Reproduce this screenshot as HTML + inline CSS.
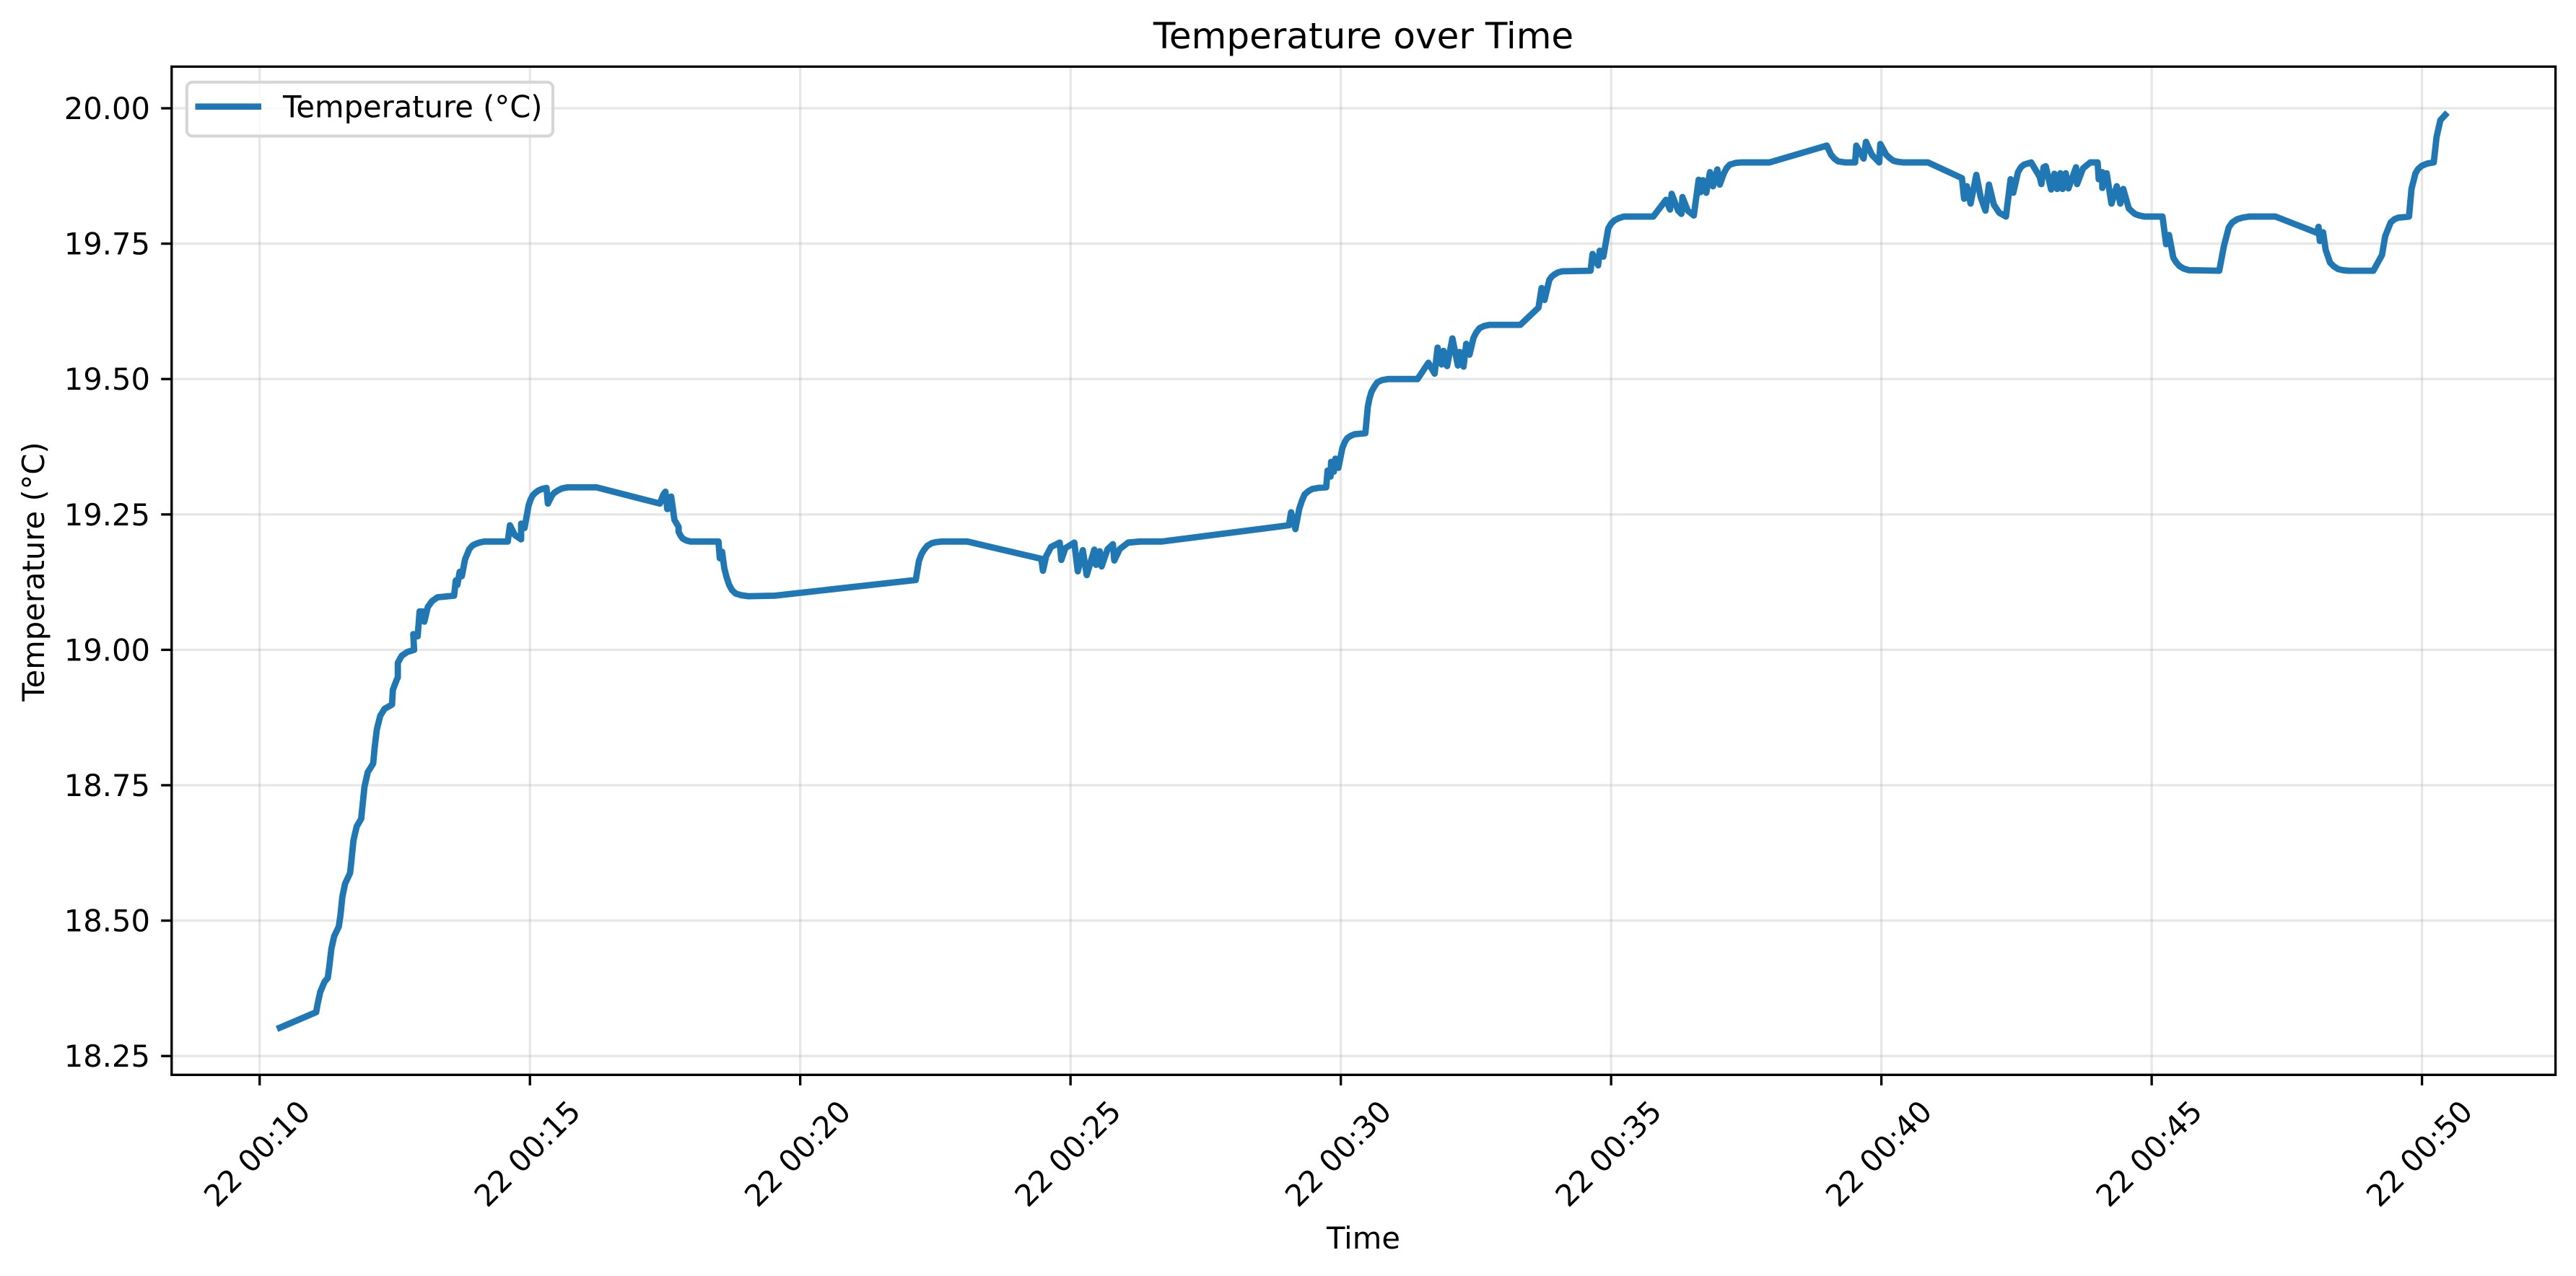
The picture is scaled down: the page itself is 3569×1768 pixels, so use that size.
<!DOCTYPE html>
<html lang="en">
<head>
<meta charset="utf-8">
<title>Temperature over Time</title>
<style>
html,body{margin:0;padding:0;background:#fff;width:3569px;height:1768px;overflow:hidden}
svg{display:block}
text{font-family:"DejaVu Sans","Liberation Sans",sans-serif;fill:#000}
</style>
</head>
<body>
<svg id="chart" xmlns="http://www.w3.org/2000/svg" width="3569" height="1768" viewBox="0 0 3569 1768">
  <rect x="0" y="0" width="3569" height="1768" fill="#fff"/>
  <g id="grid"></g>
  <g id="series"></g>
  <rect x="237.8" y="92.3" width="3302.8" height="1397" fill="none" stroke="#000" stroke-width="3.33"/>
  <g id="ticks"></g>
  <text x="1889" y="67" font-size="50" text-anchor="middle">Temperature over Time</text>
  <text x="1889" y="1730" font-size="41.67" text-anchor="middle">Time</text>
  <text x="0" y="0" font-size="41.67" text-anchor="middle" transform="translate(61 792) rotate(-90)">Temperature (°C)</text>
  <g>
    <rect x="258.8" y="113.8" width="507.2" height="74.8" rx="8" ry="8" fill="#fff" fill-opacity="0.8" stroke="#d6d6d6" stroke-width="4.17"/>
    <line x1="270.5" y1="147.7" x2="362" y2="147.7" stroke="#1f77b4" stroke-width="8.6"/>
    <text x="392" y="162.7" font-size="41.67">Temperature (°C)</text>
  </g>
</svg>
<script>
// Time stamps in minutes after 00:00 on day 22
const times = [
10.32,11.046,11.07,11.12,11.2,11.26,11.286,11.327,11.378,11.464,11.495,11.53,11.58,11.673,11.70,11.735,11.796,11.878,11.903,11.939,12.0,12.10,12.128,12.168,12.23,12.31,12.449,12.464,12.536,12.556,12.556,12.628,12.73,12.857,12.842,12.923,12.959,13.02,13.046,13.11,13.19,13.29,13.597,13.628,13.658,13.70,13.74,13.80,13.878,
13.93,13.98,14.06,14.158,14.59,14.63,14.72,14.837,14.837,14.9,14.974,15.01,15.05,15.1,15.153,15.22,15.306,15.332,15.408,15.45,15.51,15.59,15.69,
16.232,17.405,17.464,17.506,17.54,17.57,17.613,17.673,17.75,17.75,17.78,17.82,17.89,17.97,18.488,18.512,18.554,18.595,18.635,18.685,18.74,18.804,18.9,19.04,19.53,
22.137,22.196,22.24,22.286,22.35,22.435,22.52,22.613,23.09,
24.46,24.49,24.55,24.64,24.80,24.83,24.906,25.07,25.134,25.227,25.30,25.44,25.47,25.54,25.575,25.686,25.784,25.81,25.91,26.065,26.29,26.69,
29.04,29.08,29.16,29.23,29.28,29.33,29.4,29.47,29.58,29.73,29.755,29.81,29.82,29.87,29.9,29.955,30.03,30.075,30.12,30.18,30.25,30.454,30.5,30.53,30.565,30.62,30.676,30.76,30.876,31.42,
31.62,31.735,31.79,31.864,31.9,31.966,32.064,32.166,32.2,32.27,32.32,32.38,32.455,32.505,32.567,32.65,32.745,33.32,33.657,33.714,33.768,33.857,33.9,33.95,34.02,34.1,34.62,
34.657,34.76,34.79,34.857,34.947,35.0,35.06,35.14,35.236,35.78,
36.016,36.09,36.12,36.24,36.3,36.32,36.417,36.53,36.62,36.653,36.7,36.76,36.83,36.885,36.965,37.01,37.086,37.14,37.197,37.3,37.42,37.93,38.99,39.07,39.13,39.2,39.33,39.514,
39.536,39.67,39.715,39.825,39.96,39.98,40.09,40.155,40.225,40.31,40.4,40.86,
41.49,41.53,41.58,41.65,41.756,41.836,41.925,41.99,42.08,42.18,42.304,42.39,42.44,42.527,42.58,42.64,42.77,
42.93,42.96,43.0,43.04,43.14,43.2,43.25,43.31,43.35,43.41,43.46,43.6,43.62,43.73,43.864,44.0,44.02,44.086,44.086,44.167,44.256,44.354,44.42,44.474,44.577,44.63,44.69,44.77,44.866,45.2,45.267,45.32,45.4,45.45,45.51,45.59,45.69,46.25,46.337,46.426,46.49,46.58,46.68,46.805,47.29,
48.06,48.086,48.11,48.17,48.22,48.3,48.37,48.45,48.54,48.64,49.1,49.26,49.32,49.42,49.49,49.56,49.76,49.806,49.88,49.93,50.0,50.1,50.218,50.27,50.34,50.47
];
// Temperature readings in °C, one per time stamp
const temps = [
18.30,18.331,18.345,18.368,18.387,18.394,18.413,18.448,18.471,18.489,18.51,18.544,18.568,18.588,18.613,18.648,18.674,18.688,18.712,18.747,18.774,18.79,18.82,18.853,18.878,18.891,18.899,18.926,18.945,18.949,18.976,18.989,18.996,19.0,19.029,19.025,19.071,19.071,19.052,19.079,19.09,19.097,19.1,19.128,19.12,19.144,19.136,19.167,19.186,
19.192,19.195,19.198,19.2,19.2,19.23,19.212,19.204,19.233,19.225,19.266,19.277,19.285,19.29,19.294,19.297,19.299,19.27,19.285,19.29,19.294,19.298,19.3,
19.30,19.27,19.286,19.292,19.26,19.261,19.283,19.24,19.227,19.218,19.212,19.206,19.202,19.2,19.2,19.169,19.181,19.151,19.135,19.12,19.11,19.104,19.101,19.099,19.1,
19.129,19.164,19.176,19.184,19.192,19.197,19.199,19.2,19.2,
19.168,19.146,19.173,19.19,19.198,19.166,19.188,19.198,19.145,19.184,19.138,19.185,19.157,19.182,19.154,19.186,19.195,19.165,19.186,19.198,19.2,19.2,
19.23,19.254,19.223,19.26,19.275,19.287,19.293,19.297,19.299,19.30,19.331,19.32,19.347,19.329,19.353,19.336,19.373,19.384,19.391,19.395,19.398,19.40,19.449,19.464,19.476,19.486,19.494,19.498,19.5,19.5,
19.53,19.51,19.558,19.527,19.552,19.524,19.575,19.525,19.55,19.523,19.565,19.545,19.576,19.586,19.594,19.598,19.6,19.6,19.632,19.668,19.646,19.683,19.689,19.693,19.697,19.699,19.7,
19.731,19.71,19.737,19.726,19.778,19.787,19.793,19.797,19.8,19.8,
19.831,19.813,19.842,19.811,19.805,19.836,19.811,19.802,19.868,19.845,19.867,19.844,19.882,19.856,19.887,19.859,19.88,19.89,19.896,19.899,19.9,19.9,19.931,19.914,19.907,19.902,19.9,19.9,
19.931,19.907,19.938,19.914,19.9,19.934,19.914,19.908,19.903,19.901,19.9,19.9,
19.871,19.833,19.856,19.824,19.877,19.836,19.811,19.859,19.822,19.807,19.8,19.869,19.844,19.882,19.891,19.896,19.9,
19.873,19.86,19.891,19.893,19.85,19.879,19.851,19.88,19.851,19.88,19.852,19.891,19.86,19.889,19.9,19.9,19.869,19.882,19.853,19.88,19.824,19.856,19.824,19.851,19.815,19.81,19.805,19.802,19.8,19.8,19.749,19.766,19.724,19.716,19.709,19.704,19.701,19.7,19.746,19.78,19.789,19.795,19.798,19.8,19.8,
19.77,19.781,19.755,19.771,19.738,19.715,19.708,19.703,19.701,19.7,19.7,19.729,19.764,19.789,19.795,19.798,19.8,19.851,19.88,19.888,19.894,19.898,19.9,19.947,19.978,19.992
];
const xTickValues = [10,15,20,25,30,35,40,45,50];
const xTickLabels = ["22 00:10","22 00:15","22 00:20","22 00:25","22 00:30","22 00:35","22 00:40","22 00:45","22 00:50"];
const yTickValues = [18.25,18.5,18.75,19,19.25,19.5,19.75,20];
const yTickLabels = ["18.25","18.50","18.75","19.00","19.25","19.50","19.75","20.00"];

const NS = 'http://www.w3.org/2000/svg';
const plot = {left: 237.8, right: 3540.6, top: 92.3, bottom: 1489.3};
const xDomain = [8.372, 52.47];
const yDomain = [18.2152, 20.0769];
function xScale(m) {
  return plot.left + (m - xDomain[0]) / (xDomain[1] - xDomain[0]) * (plot.right - plot.left);
}
function yScale(t) {
  return plot.bottom - (t - yDomain[0]) / (yDomain[1] - yDomain[0]) * (plot.bottom - plot.top);
}
function make(tag, attrs, parent) {
  const el = document.createElementNS(NS, tag);
  for (const k in attrs) el.setAttribute(k, attrs[k]);
  parent.appendChild(el);
  return el;
}
const gridG = document.getElementById('grid');
const ticksG = document.getElementById('ticks');
const seriesG = document.getElementById('series');

xTickValues.forEach(function (v, i) {
  const x = xScale(v);
  const g = make('line', {x1: x, x2: x, y1: plot.top, y2: plot.bottom, stroke: '#b0b0b0', 'stroke-opacity': 0.3, 'stroke-width': 3.33}, gridG);
  
  
  const t = make('line', {x1: x, x2: x, y1: plot.bottom, y2: plot.bottom + 14.6, stroke: '#000', 'stroke-width': 3.33}, ticksG);
  
  
  const cx = x - 4, cy = 1598;
  const l = make('text', {x: cx, y: cy + 15, 'font-size': 41.67, 'text-anchor': 'middle', transform: 'rotate(-45 ' + cx + ' ' + cy + ')'}, ticksG);
  
  
  l.textContent = xTickLabels[i];
});

yTickValues.forEach(function (v, i) {
  const y = yScale(v);
  const g = make('line', {x1: plot.left, x2: plot.right, y1: y, y2: y, stroke: '#b0b0b0', 'stroke-opacity': 0.3, 'stroke-width': 3.33}, gridG);
  
  
  const t = make('line', {x1: plot.left - 14.6, x2: plot.left, y1: y, y2: y, stroke: '#000', 'stroke-width': 3.33}, ticksG);
  
  
  const l = make('text', {x: 208, y: y + 15, 'font-size': 41.67, 'text-anchor': 'end'}, ticksG);
  
  
  l.textContent = yTickLabels[i];
});

const pathData = times.map(function (m, i) {
  return (i ? 'L' : 'M') + xScale(m).toFixed(2) + ' ' + yScale(temps[i]).toFixed(2);
}).join('');
const linePath = make('path', {d: pathData, fill: 'none', stroke: '#1f77b4', 'stroke-width': 8.8, 'stroke-linejoin': 'round', 'stroke-linecap': 'butt'}, seriesG);


</script>
</body>
</html>
